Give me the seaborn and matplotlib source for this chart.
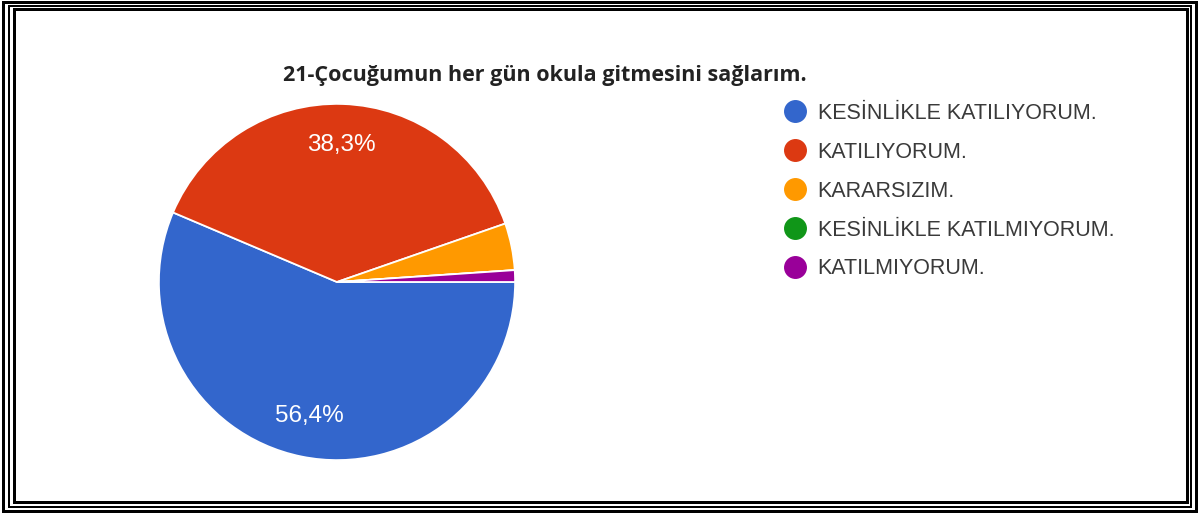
import matplotlib
matplotlib.use("Agg")
import matplotlib.pyplot as plt
import seaborn as sns
from matplotlib.patches import Rectangle
from matplotlib.lines import Line2D

# ---- data ----
categories = ["KESİNLİKLE KATILIYORUM.", "KATILIYORUM.", "KARARSIZIM.",
              "KESİNLİKLE KATILMIYORUM.", "KATILMIYORUM."]
counts = [53, 36, 4, 0, 1]
colors = ["#3366CC", "#DC3912", "#FF9900", "#109618", "#990099"]
title = "21-Çocuğumun her gün okula gitmesini sağlarım."

sns.set_theme(style="white")
plt.rcParams['font.family'] = ['Liberation Sans', 'DejaVu Sans']

W, H = 1199, 515
fig = plt.figure(figsize=(W / 100, H / 100), dpi=100)
fig.patch.set_facecolor("white")

def fx(x):
    return x / W

def fy(y):
    return (H - y) / H

# pie axes
cx, cy, r = 337, 282, 179
ax = fig.add_axes([fx(cx - r), fy(cy + r), 2 * r / W, 2 * r / H])
palette = sns.color_palette(colors)

def fmt(p):
    return (f"{p:.1f}".replace(".", ",") + "%") if p >= 5 else ""

wedges, texts, autotexts = ax.pie(
    counts, colors=palette, startangle=0, counterclock=False,
    autopct=fmt, pctdistance=0.77,
    wedgeprops=dict(edgecolor="white", linewidth=1.3),
    textprops=dict(color="white", fontsize=17.5))
ax.set_xlim(-1.005, 1.005)
ax.set_ylim(-1.005, 1.005)
ax.set_aspect("equal")
ax.axis("off")

# title
fig.text(fx(545), fy(75), title, ha="center", va="center",
         fontsize=15.5, fontweight="bold", color="#222222",
         family=["Open Sans", "DejaVu Sans"])

# legend
handles = [Line2D([0], [0], marker="o", linestyle="none", markersize=15.5,
                  markerfacecolor=c, markeredgecolor=c) for c in colors]
leg = fig.legend(handles, categories, loc="upper left",
                 bbox_to_anchor=(fx(782), fy(103)), frameon=False,
                 fontsize=15.5, labelspacing=0.83, handletextpad=0.45,
                 handlelength=1.2, borderpad=0, borderaxespad=0)
for t in leg.get_texts():
    t.set_color("#3a3a3a")

# triple border
def rect(x0, y0, x1, y1, lw_px):
    fig.add_artist(Rectangle((fx(x0), fy(y1)), fx(x1 - x0), (y1 - y0) / H,
                             transform=fig.transFigure, fill=False,
                             edgecolor="black", linewidth=lw_px * 0.72))

rect(3, 2, 1196, 511, 3)
rect(9, 6, 1191, 507, 2)
rect(13.5, 9, 1187, 501.5, 3)

fig.savefig("out.png", dpi=100, facecolor="white")
